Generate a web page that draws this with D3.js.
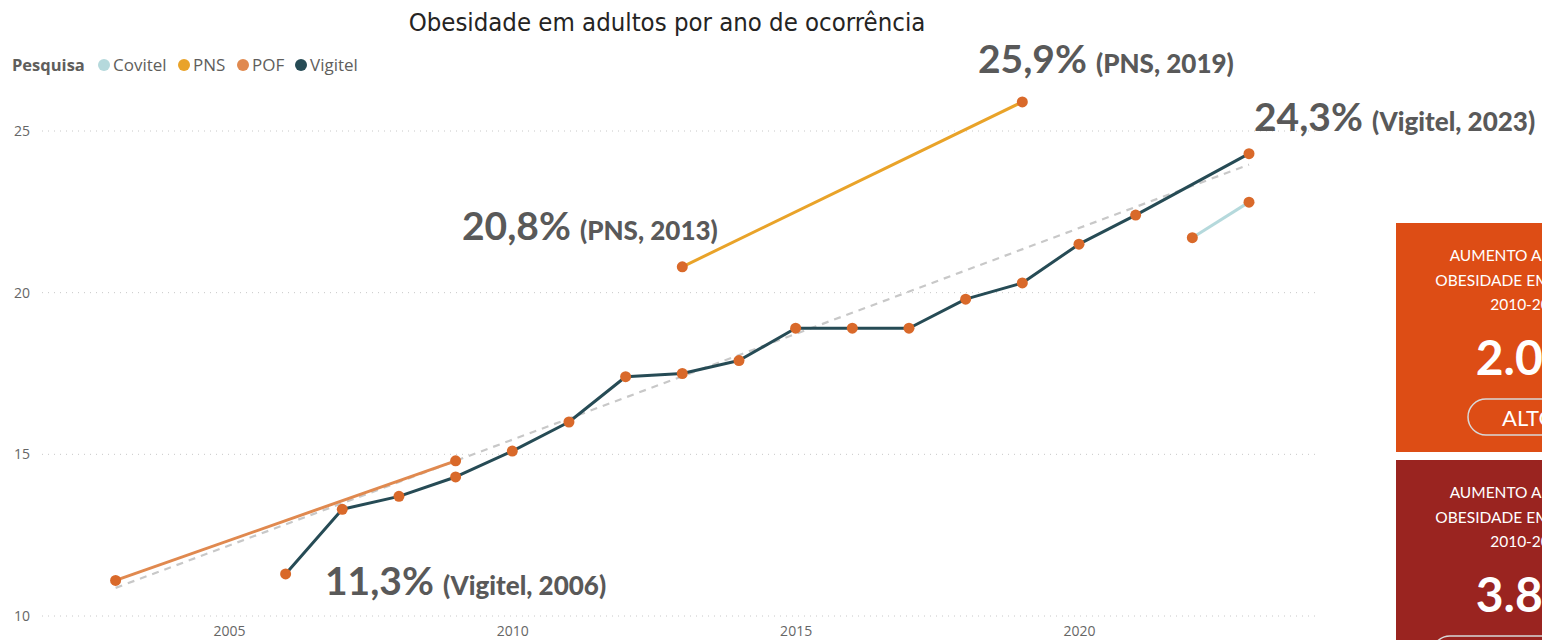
<!DOCTYPE html>
<html>
<head>
<meta charset="UTF-8">
<title>Obesidade em adultos</title>
<script src="https://cdn.jsdelivr.net/npm/d3@7"></script>
<style>
  body { margin: 0; background: #fff; overflow: hidden; }
  text { font-family: "Open Sans", sans-serif; }
</style>
</head>
<body>
<svg id="mainsvg" width="1542" height="640"></svg>
<script>
// dados
const vigitelYears = [2006, 2007, 2008, 2009, 2010, 2011, 2012, 2013, 2014, 2015, 2016, 2017, 2018, 2019, 2020, 2021, 2023];
const vigitelValues = [11.3, 13.3, 13.7, 14.3, 15.1, 16.0, 17.4, 17.5, 17.9, 18.9, 18.9, 18.9, 19.8, 20.3, 21.5, 22.4, 24.3];
const pnsYears = [2013, 2019];
const pnsValues = [20.8, 25.9];
const pofYears = [2003, 2009];
const pofValues = [11.1, 14.8];
const covitelYears = [2022, 2023];
const covitelValues = [21.7, 22.8];
const trendYears = [2003, 2023];
const trendValues = [10.87, 23.96];

const legendNames = ['Covitel', 'PNS', 'POF', 'Vigitel'];
const legendColors = ['#B5D9DC', '#E9A329', '#E0894F', '#264B55'];
const yTicks = [10, 15, 20, 25];
const xTicks = [2005, 2010, 2015, 2020];

const markerColor = '#D9692A';

const svg = d3.select('#mainsvg');

// escalas
const xScale = d3.scaleLinear().domain([2003, 2023]).range([115.6, 1249]);
const yScale = d3.scaleLinear().domain([10, 25]).range([616, 131]);
const gridLeft = 42, gridRight = 1315;

// título
svg.append('text')
  .attr('x', 667).attr('y', 31)
  .attr('text-anchor', 'middle')
  .attr('fill', '#252423')
  .style('font-family', '"DejaVu Sans Condensed", "DejaVu Sans", sans-serif')
  .style('font-stretch', 'condensed')
  .attr('font-size', 25.5)
  .text('Obesidade em adultos por ano de ocorrência');

// legenda
const legend = svg.append('g').attr('transform', 'translate(0, 71)');
legend.append('text')
  .attr('x', 12).attr('y', 0)
  .attr('font-size', 16.5).attr('font-weight', 'bold')
  .attr('fill', '#605E5C')
  .text('Pesquisa');
const legendX = [104, 184, 243, 301];
legendNames.forEach((n, i) => {
  legend.append('circle')
    .attr('cx', legendX[i]).attr('cy', -6).attr('r', 6)
    .attr('fill', legendColors[i]);
  legend.append('text')
    .attr('x', legendX[i] + 9).attr('y', 0)
    .attr('font-size', 17).attr('fill', '#605E5C')
    .text(n);
});

// grade e eixos
const yAxis = d3.axisLeft(yScale).tickValues(yTicks).tickSize(0).tickPadding(0);
const yg = svg.append('g').attr('transform', `translate(${gridLeft - 12}, 0)`).call(yAxis);
yg.select('.domain').remove();
yg.selectAll('text').attr('font-size', 14).attr('fill', '#666').style('font-family', '"Open Sans", sans-serif');

svg.append('g').selectAll('line')
  .data(yTicks).enter().append('line')
  .attr('x1', gridLeft).attr('x2', gridRight)
  .attr('y1', d => yScale(d)).attr('y2', d => yScale(d))
  .attr('stroke', '#c8c8c8').attr('stroke-width', 1)
  .attr('stroke-dasharray', '1,5');

const xAxis = d3.axisBottom(xScale).tickValues(xTicks).tickFormat(d3.format('d')).tickSize(0).tickPadding(0);
const xg = svg.append('g').attr('transform', 'translate(0, 626)').call(xAxis);
xg.select('.domain').remove();
xg.selectAll('text').attr('font-size', 14).attr('fill', '#666').style('font-family', '"Open Sans", sans-serif');

// linha de tendência
const line = d3.line().x(d => xScale(d[0])).y(d => yScale(d[1]));
svg.append('path')
  .datum(d3.zip(trendYears, trendValues))
  .attr('d', line)
  .attr('fill', 'none')
  .attr('stroke', '#c8c8c8').attr('stroke-width', 2.2)
  .attr('stroke-dasharray', '7,6');

// séries
const series = [
  { years: covitelYears, values: covitelValues, color: legendColors[0] },
  { years: pnsYears, values: pnsValues, color: legendColors[1] },
  { years: pofYears, values: pofValues, color: legendColors[2] },
  { years: vigitelYears, values: vigitelValues, color: legendColors[3] }
];
series.forEach(s => {
  svg.append('path')
    .datum(d3.zip(s.years, s.values))
    .attr('d', line)
    .attr('fill', 'none')
    .attr('stroke', s.color).attr('stroke-width', 3)
    .attr('stroke-linejoin', 'round');
});
series.forEach(s => {
  svg.append('g').selectAll('circle')
    .data(d3.zip(s.years, s.values)).enter().append('circle')
    .attr('cx', d => xScale(d[0])).attr('cy', d => yScale(d[1]))
    .attr('r', 5.5)
    .attr('fill', markerColor);
});

// anotações
const notes = [
  { big: '25,9%', small: '(PNS, 2019)', x: 978, y: 73 },
  { big: '24,3%', small: '(Vigitel, 2023)', x: 1254, y: 131 },
  { big: '20,8%', small: '(PNS, 2013)', x: 462, y: 240 },
  { big: '11,3%', small: '(Vigitel, 2006)', x: 325, y: 595 }
];
notes.forEach(n => {
  const t = svg.append('text')
    .attr('x', n.x).attr('y', n.y)
    .attr('fill', '#595959')
    .style('font-family', 'Lato, sans-serif')
    .attr('font-weight', 'bold');
  t.append('tspan').attr('font-size', 39).text(n.big);
  t.append('tspan').attr('font-size', 26).attr('font-weight', 900).attr('dx', 9).text(n.small);
});

// cartões à direita
const cards = [
  { y: 223, h: 229, color: '#DD4D15', lines: ['AUMENTO ANUAL DA', 'OBESIDADE EM ADULTOS', '2010-2023'], value: '2.0%', pill: 'ALTO', pillW: 122 },
  { y: 460, h: 200, color: '#9A2420', lines: ['AUMENTO ANUAL DA', 'OBESIDADE EM ADULTOS', '2010-2023'], value: '3.8%', pill: 'MUITO ALTO', pillW: 194 }
];
const cardX = 1396, cardW = 266, cardCx = cardX + cardW / 2;
cards.forEach(c => {
  const g = svg.append('g');
  g.append('rect').attr('x', cardX).attr('y', c.y).attr('width', cardW).attr('height', c.h).attr('fill', c.color);
  c.lines.forEach((l, i) => {
    g.append('text')
      .attr('x', cardCx).attr('y', c.y + 38 + i * 24.5)
      .attr('text-anchor', 'middle')
      .attr('fill', '#fff').attr('font-size', 15.5)
      .style('font-family', 'Lato, sans-serif')
      .text(l);
  });
  g.append('text')
    .attr('x', cardCx).attr('y', c.y + 152)
    .attr('text-anchor', 'middle')
    .attr('fill', '#fff').attr('font-size', 48).attr('font-weight', 'bold')
    .style('font-family', 'Lato, sans-serif')
    .text(c.value);
  g.append('rect')
    .attr('x', cardCx - c.pillW / 2).attr('y', c.y + 176)
    .attr('width', c.pillW).attr('height', 36).attr('rx', 18)
    .attr('fill', 'none').attr('stroke', '#d8d8d8').attr('stroke-width', 1.5);
  g.append('text')
    .attr('x', cardCx).attr('y', c.y + 203)
    .attr('text-anchor', 'middle')
    .attr('fill', '#fff').attr('font-size', 22)
    .style('font-family', 'Lato, sans-serif')
    .text(c.pill);
});
</script>
</body>
</html>
